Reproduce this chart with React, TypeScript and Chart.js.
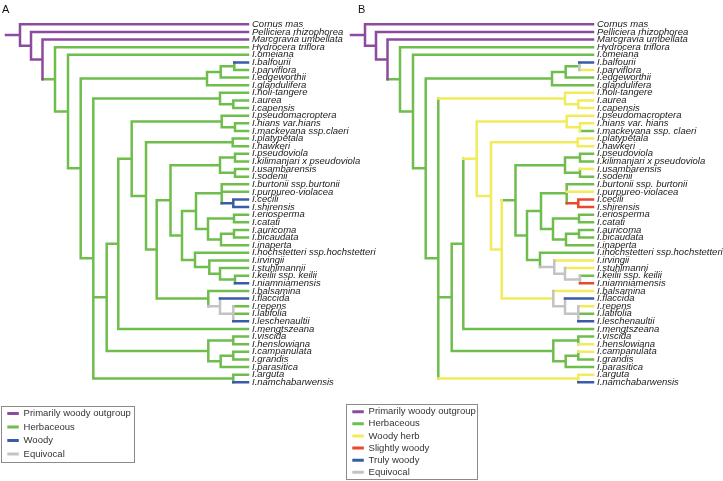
import React, { useEffect, useRef, useState } from "react";
import { Chart, registerables } from "chart.js";

Chart.register(...registerables);

// ---------- data ----------
const leafNamesA = [
  "Cornus mas", "Pelliciera rhizophorea", "Marcgravia umbellata", "Hydrocera triflora",
  "I.omeiana", "I.balfourii", "I.parviflora", "I.edgeworthii", "I.glandulifera",
  "I.noli-tangere", "I.aurea", "I.capensis", "I.pseudomacroptera", "I.hians var.hians",
  "I.mackeyana ssp.claeri", "I.platypetala", "I.hawkeri", "I.pseudoviola",
  "I.kilimanjari x pseudoviola", "I.usambarensis", "I.sodenii", "I.burtonii ssp.burtonii",
  "I.purpureo-violacea", "I.cecili", "I.shirensis", "I.eriosperma", "I.catati",
  "I.auricoma", "I.bicaudata", "I.inaperta", "I.hochstetteri ssp.hochstetteri",
  "I.irvingii", "I.stuhlmannii", "I.keilii ssp. keilii", "I.niamniamensis",
  "I.balsamina", "I.flaccida", "I.repens", "I.latifolia", "I.leschenaultii",
  "I.mengtszeana", "I.viscida", "I.henslowiana", "I.campanulata", "I.grandis",
  "I.parasitica", "I.arguta", "I.namchabarwensis",
];
const leafNamesB = [
  "Cornus mas", "Pelliciera rhizophorea", "Marcgravia umbellata", "Hydrocera triflora",
  "I.omeiana", "I.balfourii", "I.parviflora", "I.edgeworthii", "I.glandulifera",
  "I.noli-tangere", "I.aurea", "I.capensis", "I.pseudomacroptera", "I.hians var. hians",
  "I.mackeyana ssp. claeri", "I.platypetala", "I.hawkeri", "I.pseudoviola",
  "I.kilimanjari x pseudoviola", "I.usambarensis", "I.sodenii", "I.burtonii ssp. burtonii",
  "I.purpureo-violacea", "I.cecili", "I.shirensis", "I.eriosperma", "I.catati",
  "I.auricoma", "I.bicaudata", "I.inaperta", "I.ihochstetteri ssp.hochstetteri",
  "I.irvingii", "I.stuhlmanni", "I.keilii ssp. keilii", "I.niamniamensis",
  "I.balsamina", "I.flaccida", "I.repens", "I.latifolia", "I.leschenaultii",
  "I.mengtszeana", "I.viscida", "I.henslowiana", "I.campanulata", "I.grandis",
  "I.parasitica", "I.arguta", "I.namchabarwensis",
];

// internal nodes (ids 48..91); children are tip indices (<48) or node ids
const nodeChildren: number[][] = [
  [0, 49], [1, 50], [2, 51], [3, 52], [4, 53], [54, 57], [55, 8], [56, 7], [5, 6],
  [58, 60, 91], [9, 59], [10, 11], [61, 87], [62, 40], [63, 65], [12, 64], [13, 14],
  [66, 67], [15, 16], [68, 84], [69, 72], [70, 71], [17, 18], [19, 20], [73, 80],
  [74, 76], [21, 22, 75], [23, 24], [77, 78], [25, 26], [79, 29], [27, 28], [30, 81],
  [31, 82], [32, 83], [33, 34], [35, 85], [36, 86], [37, 38, 39], [88, 89], [41, 42],
  [90, 45], [43, 44], [46, 47],
];
// branching depth of each internal node (same order as nodeChildren)
const nodeDepth = [
  20, 31, 42.5, 55, 68, 80.7, 207, 220.7, 234.3,
  93.3, 220, 233.3, 106.7, 118.3, 131.7, 221.7, 235,
  146, 232.7, 156.7, 170.5, 220, 235, 235, 182,
  196, 221.7, 233.3, 208, 234, 221, 234, 195,
  209.3, 220, 235, 208.3, 220, 233.3, 208.3, 233.3,
  220.7, 233.3, 233.3,
];
const tipDepth = 248;
const rootStubStart = 6;

// character states: one letter per tip, per internal-node branch, per internal-node bar
const tipStatesA = "PPPHHWHHHHHHHHHHHHHHHHHWWHHHHHHHHHWHWHHWHHHHHHHW";
const edgeStatesA = "PPPHHHHHHHHHHHHHHHHHHHHHHHHWHHHHHHHHHEEHHHHH";
const vertStatesA = "PPPHHHHHHHHHHHHHHHHHHHHHHHHWHHHHHHHHHEEHHHHH";

const tipStatesB = "PPPHHTYHHYYYYYHYYHHYHHYSSHHHHHHYYHSYTYHTHHYYHHYT";
const edgeStatesB = "PPPHHHHHHHYYHHYYYYYYHHHHHHHSHHHHHEEEYEEHHHHY";
const vertStatesB = "PPPHHHHHEHYYHHYYYYYYHHHHHHHSHHHHHEEEEEEHHHHY";

const legendCodesA = ["P", "H", "W", "E"];
const legendLabelsA = ["Primarily woody outgroup", "Herbaceous", "Woody", "Equivocal"];
const legendCodesB = ["P", "H", "Y", "S", "T", "E"];
const legendLabelsB = [
  "Primarily woody outgroup", "Herbaceous", "Woody herb", "Slightly woody", "Truly woody", "Equivocal",
];

// ---------- styles ----------
const stateColor: Record<string, string> = {
  P: "#8c4b9e", H: "#6fbe4d", W: "#3a5ca8", T: "#3a5ca8", E: "#c3c3c3", Y: "#f2ec5c", S: "#e8492c",
};
const drawOrder: Record<string, number> = { H: 6, Y: 5, E: 4, P: 3, W: 2, T: 2, S: 1 };
const FONT = "'Liberation Sans', Arial, Helvetica, sans-serif";
const ROW_PX = 7.617;
const FIRST_ROW_PX = 24.3;
const H = 481;

function buildSegments(tipStates: string, edgeStates: string, vertStates: string) {
  const nTips = tipStates.length;
  const n = nTips + nodeChildren.length;
  const y: number[] = new Array(n).fill(0);
  const x: number[] = new Array(n).fill(0);
  const parent: number[] = new Array(n).fill(-1);
  for (let i = 0; i < nTips; i++) { y[i] = i; x[i] = tipDepth; }
  for (let k = nodeChildren.length - 1; k >= 0; k--) {
    const id = nTips + k;
    const ch = nodeChildren[k];
    y[id] = ch.reduce((s, c) => s + y[c], 0) / ch.length;
    x[id] = nodeDepth[k];
    ch.forEach((c) => (parent[c] = id));
  }
  const segs: Record<string, any[]> = {};
  const add = (code: string, x1: number, y1: number, x2: number, y2: number) => {
    (segs[code] = segs[code] || []).push({ x: x1, y: y1 }, { x: x2, y: y2 }, { x: x2, y: null });
  };
  const stateOf = (id: number) => (id < nTips ? tipStates[id] : edgeStates[id - nTips]);
  for (let k = 0; k < nodeChildren.length; k++) {
    const id = nTips + k;
    const ys = nodeChildren[k].map((c) => y[c]);
    add(vertStates[k], x[id], Math.min(...ys), x[id], Math.max(...ys));
  }
  for (let id = 0; id < n; id++) {
    const p = parent[id];
    add(stateOf(id), p < 0 ? rootStubStart : x[p], y[id], x[id], y[id]);
  }
  return segs;
}

const legendFrame = {
  id: "legendFrame",
  afterDraw(chart: any, _args: any, opts: any) {
    const lg = chart.legend;
    if (!lg || !lg.legendHitBoxes || !lg.legendHitBoxes.length) return;
    let l = Infinity, t = Infinity, r = -Infinity, b = -Infinity;
    for (const h of lg.legendHitBoxes) {
      l = Math.min(l, h.left); t = Math.min(t, h.top);
      r = Math.max(r, h.left + h.width); b = Math.max(b, h.top + h.height);
    }
    const ctx = chart.ctx;
    ctx.save();
    ctx.strokeStyle = opts.color;
    ctx.lineWidth = 1;
    const x0 = Math.round(l - opts.left) + 0.5;
    const y0 = Math.round(t - opts.top) + 0.5;
    const x1 = Math.round(r + opts.right) + 0.5;
    const y1 = Math.round(b + opts.bottom) - 0.5;
    ctx.strokeRect(x0, y0, x1 - x0, y1 - y0);
    ctx.restore();
  },
};

type PanelProps = {
  names: string[];
  tipStates: string; edgeStates: string; vertStates: string;
  codes: string[]; labels: string[];
  left: number; width: number; padLeft: number; padBottom: number;
  legendPad: number;
  frame: { left: number; top: number; right: number; bottom: number };
};

function TreePanel(p: PanelProps) {
  const ref = useRef<HTMLCanvasElement | null>(null);
  const [err, setErr] = useState("");
  useEffect(() => {
    if (!ref.current) return;
    let chart: any = null;
    try {
      const segs = buildSegments(p.tipStates, p.edgeStates, p.vertStates);
      const datasets = p.codes.map((code, i) => ({
        label: p.labels[i],
        data: segs[code] || [],
        borderColor: stateColor[code],
        backgroundColor: stateColor[code],
        borderWidth: 2.5,
        borderCapStyle: "square",
        borderJoinStyle: "miter",
        pointRadius: 0,
        pointHoverRadius: 0,
        showLine: true,
        spanGaps: false,
        tension: 0,
        clip: false,
        order: drawOrder[code],
      }));
      const plotBottom = H - p.padBottom;
      const yMin = -FIRST_ROW_PX / ROW_PX;
      const yMax = yMin + plotBottom / ROW_PX;
      const labelW = p.width - tipDepth;
      chart = new Chart(ref.current, {
        type: "line",
        data: { datasets: datasets as any },
        plugins: [legendFrame as any],
        options: {
          animation: false,
          responsive: false,
          events: [],
          layout: { padding: { left: p.padLeft, right: 0, top: 0, bottom: p.padBottom } },
          scales: {
            x: { type: "linear", display: false, min: p.padLeft, max: tipDepth },
            y: {
              type: "linear",
              position: "right",
              reverse: true,
              min: yMin,
              max: yMax,
              grid: { display: false, drawTicks: false },
              border: { display: false },
              afterBuildTicks: (axis: any) => {
                axis.ticks = p.names.map((_, i) => ({ value: i }));
              },
              afterFit: (scale: any) => {
                scale.width = labelW;
                scale.paddingTop = 0;
                scale.paddingBottom = 0;
              },
              ticks: {
                autoSkip: false,
                padding: 4,
                color: "#1a1a1a",
                font: { family: FONT, size: 9.5, style: "italic" },
                callback: (v: any) => p.names[Number(v)] ?? "",
              },
            },
          },
          plugins: {
            tooltip: { enabled: false },
            legend: {
              display: true,
              position: "chartArea",
              align: "end",
              labels: {
                boxWidth: 11.5,
                boxHeight: 3,
                padding: p.legendPad,
                color: "#333333",
                font: { family: FONT, size: 9.5 },
                sort: (a: any, b: any) => a.datasetIndex - b.datasetIndex,
                generateLabels: (c: any) =>
                  c.data.datasets.map((d: any, i: number) => ({
                    text: d.label,
                    fillStyle: d.borderColor,
                    strokeStyle: d.borderColor,
                    fontColor: "#333333",
                    lineWidth: 0,
                    hidden: false,
                    datasetIndex: i,
                  })),
              },
            },
            legendFrame: { color: "#8a8a8a", ...p.frame },
          } as any,
        },
      });
    } catch (e: any) {
      setErr(String(e && e.stack ? e.stack : e));
    }
    return () => { if (chart) chart.destroy(); };
  }, []);
  return (
    <>
      <canvas
        ref={ref}
        width={p.width}
        height={H}
        style={{ position: "absolute", left: p.left, top: 0, width: p.width, height: H }}
      />
      {err ? (
        <pre style={{ position: "absolute", left: p.left, top: 0, fontSize: 8, color: "red", whiteSpace: "pre-wrap", width: 360 }}>{err}</pre>
      ) : null}
    </>
  );
}

export default function App() {
  const letter: React.CSSProperties = {
    position: "absolute", top: 3.6, fontFamily: FONT, fontSize: 11, lineHeight: "11px", color: "#111",
  };
  return (
    <div style={{ position: "fixed", left: 0, top: 0, width: 723, height: H, background: "#fff", overflow: "hidden" }}>
      <TreePanel
        names={leafNamesA} tipStates={tipStatesA} edgeStates={edgeStatesA} vertStates={vertStatesA}
        codes={legendCodesA} labels={legendLabelsA}
        left={0} width={380} padLeft={3.3} padBottom={18.25} legendPad={4}
        frame={{ left: 6.6, top: 3, right: 3, bottom: 4.5 }}
      />
      <TreePanel
        names={leafNamesB} tipStates={tipStatesB} edgeStates={edgeStatesB} vertStates={vertStatesB}
        codes={legendCodesB} labels={legendLabelsB}
        left={345} width={378} padLeft={4.675} padBottom={1.375} legendPad={2.625}
        frame={{ left: 6.6, top: 2.6, right: 1.7, bottom: 3 }}
      />
      <span style={{ ...letter, left: 2 }}>A</span>
      <span style={{ ...letter, left: 358 }}>B</span>
    </div>
  );
}
